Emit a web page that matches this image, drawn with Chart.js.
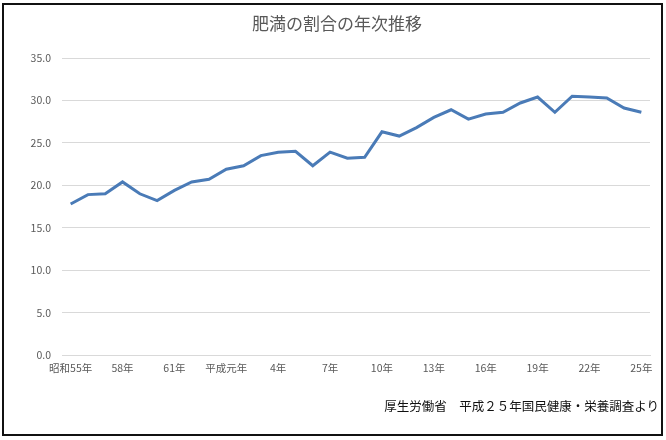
<!DOCTYPE html>
<html lang="ja">
<head>
<meta charset="utf-8">
<script src="https://cdn.jsdelivr.net/npm/chart.js@4"></script>
<style>
  html, body { margin: 0; padding: 0; background: #fff; }
  #wrap { position: relative; width: 666px; height: 440px; }
  #frame {
    position: absolute; left: 2px; top: 3px; width: 661px; height: 433px;
    box-sizing: border-box; border: 2.5px solid #111; pointer-events: none;
  }
  #source {
    position: absolute; right: 7px; top: 396px;
    font: 12.5px "Noto Sans CJK JP", sans-serif; color: #111; white-space: nowrap;
  }
</style>
</head>
<body>
<div id="wrap">
  <canvas id="chart" width="666" height="440"></canvas>
  <div id="frame"></div>
  <div id="source">厚生労働省　平成２５年国民健康・栄養調査より</div>
</div>
<script>
// 年（昭和55年〜平成25年）
const years = [
  '昭和55年', '56年', '57年', '58年', '59年', '60年', '61年', '62年', '63年',
  '平成元年', '2年', '3年', '4年', '5年', '6年', '7年', '8年', '9年',
  '10年', '11年', '12年', '13年', '14年', '15年', '16年', '17年', '18年',
  '19年', '20年', '21年', '22年', '23年', '24年', '25年'
];

// 肥満の割合（%）
const obesityRate = [
  17.8, 18.9, 19.0, 20.4, 19.0, 18.2, 19.4, 20.4, 20.7,
  21.9, 22.3, 23.5, 23.9, 24.0, 22.3, 23.9, 23.2,
  23.3, 26.3, 25.8, 26.8, 28.0, 28.9, 27.8, 28.4, 28.6,
  29.7, 30.4, 28.6, 30.5, 30.4, 30.3, 29.1, 28.6
];

// 目盛り（3年ごとに表示）
const labelStep = 3;

const tickColor = '#595959';
const gridColor = '#d9d9d9';
const jpFont = '"Noto Sans CJK JP", sans-serif';

new Chart(document.getElementById('chart'), {
  type: 'line',
  data: {
    labels: years,
    datasets: [{
      label: '肥満の割合',
      data: obesityRate,
      borderColor: '#4a7bb7',
      borderWidth: 3,
      pointRadius: 0,
      tension: 0,
      fill: false
    }]
  },
  options: {
    responsive: false,
    animation: false,
    layout: { padding: { left: 24, right: 16, top: 13, bottom: 55 } },
    plugins: {
      legend: { display: false },
      tooltip: { enabled: false },
      title: {
        display: true,
        text: '肥満の割合の年次推移',
        color: tickColor,
        font: { family: jpFont, size: 17, weight: 'normal' },
        padding: { top: 0, bottom: 24.6 }
      }
    },
    scales: {
      x: {
        offset: true,
        grid: { display: false, drawTicks: false },
        border: { display: true, color: gridColor },
        ticks: {
          autoSkip: false,
          maxRotation: 0,
          padding: 7,
          color: tickColor,
          font: { family: jpFont, size: 10.5 },
          callback: function(value, index) {
            return index % labelStep === 0 ? this.getLabelForValue(value) : '';
          }
        },
        afterFit: function(scale) { scale.height = 30; }
      },
      y: {
        min: 0,
        max: 35,
        grid: { color: gridColor, drawTicks: false },
        border: { display: false },
        ticks: {
          stepSize: 5,
          padding: 11,
          color: tickColor,
          font: { family: jpFont, size: 10.5 },
          callback: function(value) { return value.toFixed(1); }
        },
        afterFit: function(scale) { scale.width = 38; }
      }
    }
  }
});
</script>
</body>
</html>
